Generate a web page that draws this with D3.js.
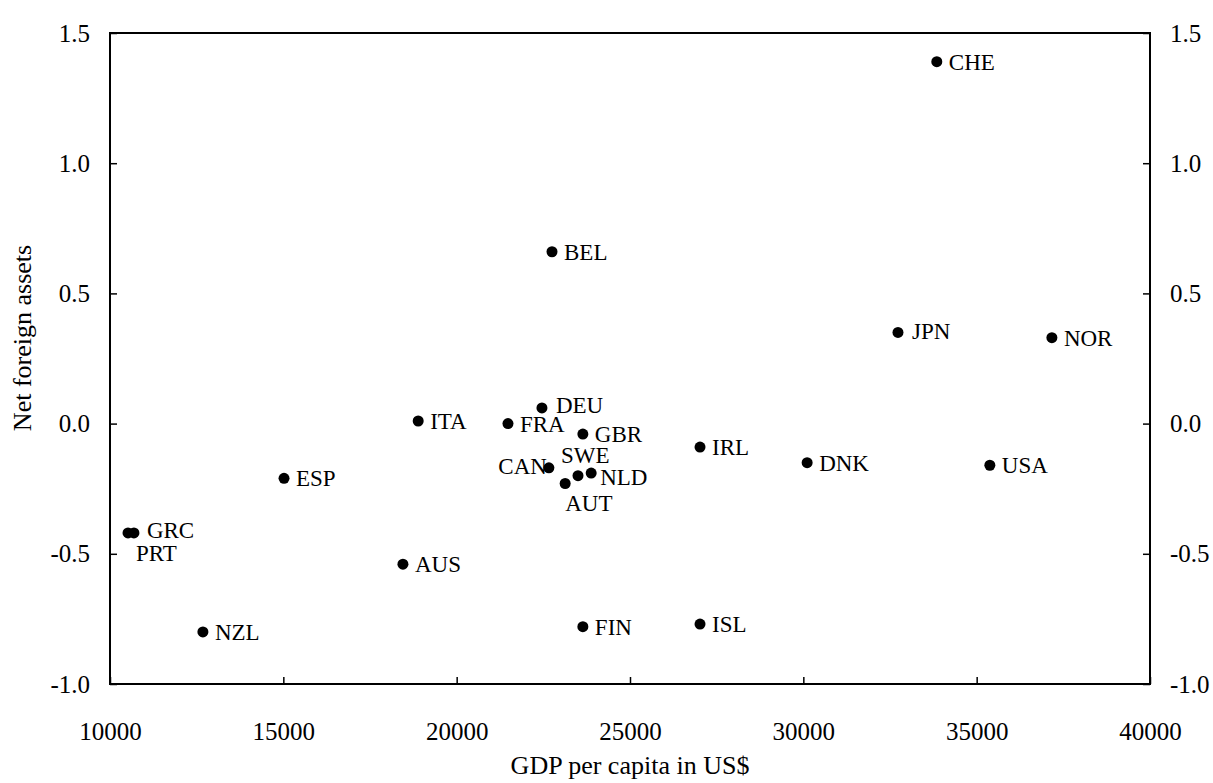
<!DOCTYPE html>
<html>
<head>
<meta charset="utf-8">
<script src="https://cdn.jsdelivr.net/npm/d3@7"></script>
<style>
  body { margin: 0; background: #fff; }
  svg { font-family: "Liberation Serif", "Times New Roman", serif; }
  .tick text { font-size: 25px; fill: #000; }
  .lbl { font-size: 23px; fill: #000; }
  .title { font-size: 26px; fill: #000; }
</style>
</head>
<body>
<svg id="chart" width="1213" height="783"></svg>
<script>
// ---- Data ----
const countries = ['CHE','BEL','JPN','NOR','DEU','ITA','FRA','GBR','IRL','DNK','USA',
                   'CAN','SWE','NLD','AUT','ESP','GRC','PRT','AUS','NZL','FIN','ISL'];
const gdp = [33850, 22750, 32730, 37170, 22460, 18890, 21480, 23640, 27020, 30110, 35380,
             22660, 23500, 23880, 23130, 15020, 10690, 10520, 18450, 12680, 23640, 27020];
const nfa = [1.39, 0.66, 0.35, 0.33, 0.06, 0.01, 0.00, -0.04, -0.09, -0.15, -0.16,
             -0.17, -0.20, -0.19, -0.23, -0.21, -0.42, -0.42, -0.54, -0.80, -0.78, -0.77];
const xTicks = [10000, 15000, 20000, 25000, 30000, 35000, 40000];
const yTicks = [-1.0, -0.5, 0.0, 0.5, 1.0, 1.5];

// label placement tweaks (default: to the right of the dot)
const labelPos = {
  DEU: {dx: 14, dy: -3},
  JPN: {dx: 14, dy: -2},
  CAN: {dx: -2, dy: -2, anchor: 'end'},
  SWE: {dx: -17, dy: -21},
  NLD: {dx: 9, dy: 4},
  AUT: {dx: 0, dy: 19},
  PRT: {dx: 8, dy: 20},
  GRC: {dx: 13, dy: -3}
};

const svg = d3.select('#chart');
const margin = {top: 33, right: 63, bottom: 99, left: 110};
const W = +svg.attr('width'), H = +svg.attr('height');

const x = d3.scaleLinear().domain([10000, 40000]).range([margin.left, W - margin.right]);
const y = d3.scaleLinear().domain([-1.0, 1.5]).range([H - margin.bottom, margin.top]);

const fmtY = d => d.toFixed(1);
const serif = '"Liberation Serif", "Times New Roman", serif';

// ---- Axes (ticks point inward) ----
svg.append('g')
  .attr('transform', `translate(0,${y(-1.0)})`)
  .call(d3.axisBottom(x).tickValues(xTicks).tickFormat(d3.format('d'))
    .tickSizeInner(-7).tickSizeOuter(0).tickPadding(38))
  .call(g => g.select('.domain').remove())
  .attr('font-family', serif);

svg.append('g')
  .attr('transform', `translate(${x(10000)},0)`)
  .call(d3.axisLeft(y).tickValues(yTicks).tickFormat(fmtY)
    .tickSizeInner(-7).tickSizeOuter(0).tickPadding(20))
  .call(g => g.select('.domain').remove())
  .attr('font-family', serif);

svg.append('g')
  .attr('transform', `translate(${x(40000)},0)`)
  .call(d3.axisRight(y).tickValues(yTicks).tickFormat(fmtY)
    .tickSizeInner(-7).tickSizeOuter(0).tickPadding(20))
  .call(g => g.select('.domain').remove())
  .attr('font-family', serif);

svg.selectAll('.tick line').attr('stroke', '#000').attr('stroke-width', 1.5);

// frame
svg.append('rect')
  .attr('x', x(10000)).attr('y', y(1.5))
  .attr('width', x(40000) - x(10000)).attr('height', y(-1.0) - y(1.5))
  .attr('fill', 'none').attr('stroke', '#000').attr('stroke-width', 2);

// ---- Points ----
const data = countries.map((c, i) => ({code: c, gdp: gdp[i], nfa: nfa[i]}));

svg.append('g').selectAll('circle')
  .data(data)
  .join('circle')
  .attr('cx', d => x(d.gdp))
  .attr('cy', d => y(d.nfa))
  .attr('r', 5.5)
  .attr('fill', '#000');

svg.append('g').selectAll('text')
  .data(data)
  .join('text')
  .attr('class', 'lbl')
  .attr('x', d => x(d.gdp) + (labelPos[d.code] ? labelPos[d.code].dx : 12))
  .attr('y', d => y(d.nfa) + (labelPos[d.code] ? labelPos[d.code].dy : 0))
  .attr('dy', '0.35em')
  .attr('text-anchor', d => (labelPos[d.code] && labelPos[d.code].anchor) || 'start')
  .text(d => d.code);

// ---- Titles ----
svg.append('text')
  .attr('class', 'title')
  .attr('x', (x(10000) + x(40000)) / 2)
  .attr('y', 774)
  .attr('text-anchor', 'middle')
  .text('GDP per capita in US$');

svg.append('text')
  .attr('class', 'title')
  .attr('transform', 'translate(31,338) rotate(-90)')
  .attr('text-anchor', 'middle')
  .text('Net foreign assets');
</script>
</body>
</html>
